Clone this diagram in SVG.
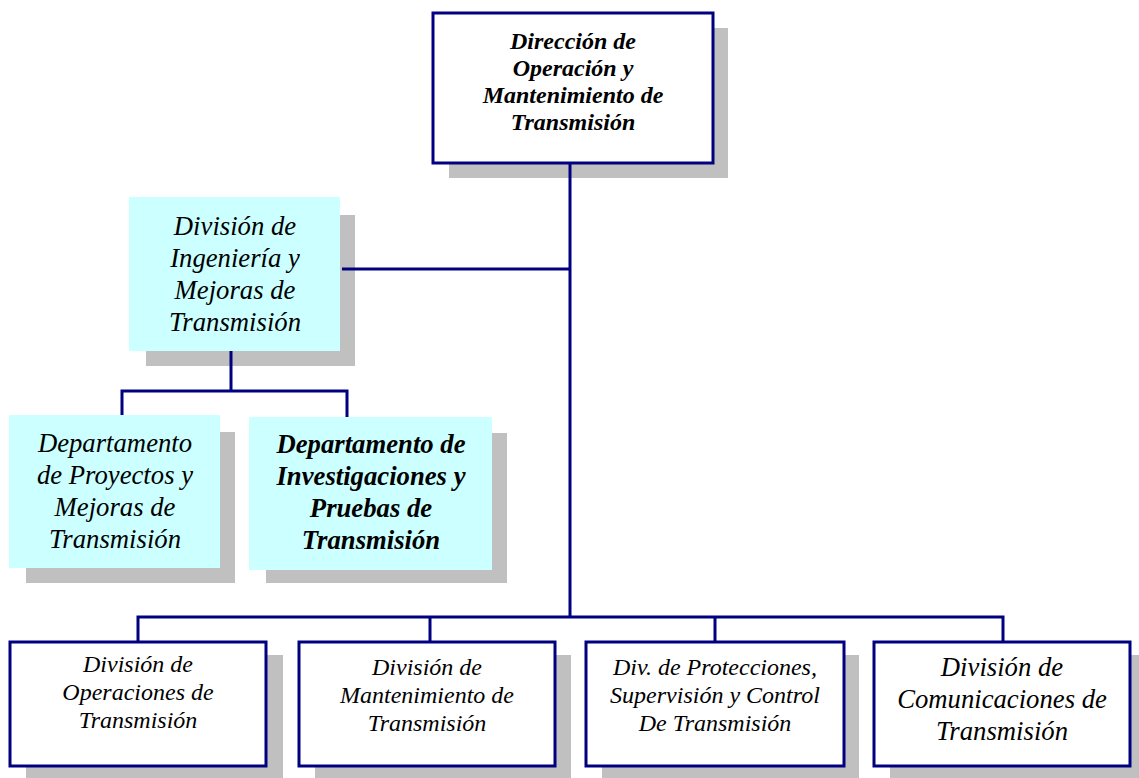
<svg xmlns="http://www.w3.org/2000/svg" width="1139" height="778" viewBox="0 0 1139 778">
<style>
.sh{fill:#c0c0c0}
.bx{fill:#ffffff;stroke:#000080;stroke-width:3}
.cy{fill:#ccffff}
.t{font-family:"Liberation Serif","DejaVu Serif",serif;font-style:italic;text-anchor:middle;fill:#000}
.b{font-weight:bold}
.s24{font-size:24px}
.s27{font-size:26.7px}
.ln{stroke:#000080;stroke-width:3;fill:none}
</style>
<rect width="1139" height="778" fill="#fff"/>
<g id="n-direccion">
<rect class="sh" x="449" y="28" width="279" height="150"/>
<rect class="bx" x="433" y="13" width="280" height="150"/>
<text class="t b s24" x="573"><tspan x="573" y="49">Dirección de</tspan><tspan x="573" y="76">Operación y</tspan><tspan x="573" y="103">Mantenimiento de</tspan><tspan x="573" y="130">Transmisión</tspan></text>
</g>
<g id="n-ingenieria">
<rect class="sh" x="146" y="215" width="209" height="151"/>
<rect class="cy" x="129" y="197" width="211" height="154"/>
<text class="t s27" x="235"><tspan x="235" y="235">División de</tspan><tspan x="235" y="267">Ingeniería y</tspan><tspan x="235" y="299">Mejoras de</tspan><tspan x="235" y="331">Transmisión</tspan></text>
</g>
<g id="n-proyectos">
<rect class="sh" x="26" y="432" width="209" height="151"/>
<rect class="cy" x="9" y="415" width="211" height="153"/>
<text class="t s27" x="115"><tspan x="115" y="452">Departamento</tspan><tspan x="115" y="484">de Proyectos y</tspan><tspan x="115" y="516">Mejoras de</tspan><tspan x="115" y="548">Transmisión</tspan></text>
</g>
<g id="n-investigaciones">
<rect class="sh" x="266" y="433" width="241" height="150"/>
<rect class="cy" x="249" y="417" width="243" height="153"/>
<text class="t b s27" x="371"><tspan x="371" y="453">Departamento de</tspan><tspan x="371" y="485">Investigaciones y</tspan><tspan x="371" y="517">Pruebas de</tspan><tspan x="371" y="549">Transmisión</tspan></text>
</g>
<g id="n-operaciones">
<rect class="sh" x="26" y="655" width="257" height="123"/>
<rect class="bx" x="10" y="642" width="256" height="124"/>
<text class="t s24" x="138"><tspan x="138" y="672">División de</tspan><tspan x="138" y="700">Operaciones de</tspan><tspan x="138" y="728">Transmisión</tspan></text>
</g>
<g id="n-mantenimiento">
<rect class="sh" x="315" y="655" width="256" height="123"/>
<rect class="bx" x="299" y="642" width="256" height="124"/>
<text class="t s24" x="427"><tspan x="427" y="675">División de</tspan><tspan x="427" y="703">Mantenimiento de</tspan><tspan x="427" y="731">Transmisión</tspan></text>
</g>
<g id="n-protecciones">
<rect class="sh" x="602" y="655" width="257" height="123"/>
<rect class="bx" x="586" y="642" width="258" height="124"/>
<text class="t s24" x="715"><tspan x="715" y="675">Div. de Protecciones,</tspan><tspan x="715" y="703">Supervisión y Control</tspan><tspan x="715" y="731">De Transmisión</tspan></text>
</g>
<g id="n-comunicaciones">
<rect class="sh" x="890" y="655" width="249" height="123"/>
<rect class="bx" x="874" y="642" width="256" height="124"/>
<text class="t s27" x="1002"><tspan x="1002" y="676">División de</tspan><tspan x="1002" y="708">Comunicaciones de</tspan><tspan x="1002" y="740">Transmisión</tspan></text>
</g>
<g id="connectors">
<line class="ln" x1="570" y1="164" x2="570" y2="618"/>
<line class="ln" x1="342" y1="269" x2="570" y2="269"/>
<line class="ln" x1="231" y1="351" x2="231" y2="391"/>
<polyline class="ln" points="122,415 122,391 347,391 347,417"/>
<polyline class="ln" points="138,641 138,617 1003,617 1003,641"/>
<line class="ln" x1="430" y1="617" x2="430" y2="641"/>
<line class="ln" x1="715" y1="617" x2="715" y2="641"/>
</g>
</svg>
